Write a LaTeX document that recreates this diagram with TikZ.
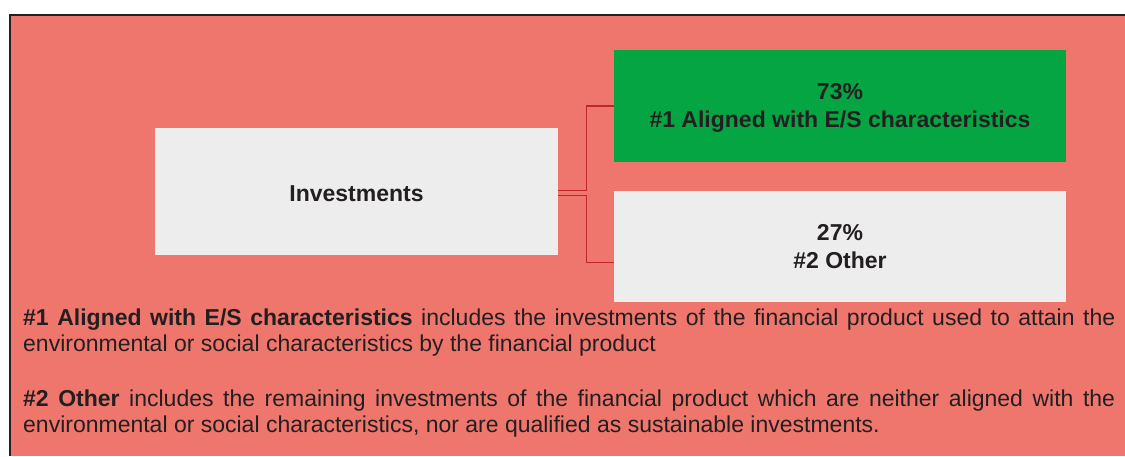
\documentclass[tikz,border=0pt]{standalone}
\usepackage{fontspec}
\setmainfont{Liberation Sans}
\definecolor{salmon}{HTML}{EF766D}
\definecolor{boxgreen}{HTML}{05A543}
\definecolor{boxgrey}{HTML}{EDEDED}
\definecolor{ink}{HTML}{231F20}
\definecolor{linkred}{HTML}{C0272D}
\begin{document}
\begin{tikzpicture}[x=1pt,y=-1pt,
  catbox/.style={inner sep=0pt, align=center, text=ink,
    font=\fontsize{23}{28}\selectfont\bfseries},
  link/.style={draw=linkred, line width=1.4pt},
  para/.style={anchor=north west, inner sep=0pt, text width=1092pt, align=justify,
    text=ink, font=\fontsize{23}{26.5}\selectfont}]
\useasboundingbox (0,0) rectangle (1125,456);
\fill[salmon] (10,15) rectangle (1125,456);
\draw[line width=2pt, ink] (10,456) -- (10,15) -- (1125,15);
\node[catbox, fill=boxgrey, minimum width=403pt, minimum height=127pt, text height=20.4pt, text depth=0pt] (inv) at (356.5,191.5) {Investments};
\node[catbox, fill=boxgreen, minimum width=452pt, minimum height=112pt] (a) at (840,106) {\rule{0pt}{19.4pt}73\%\\\#1 Aligned with E/S characteristics};
\node[catbox, fill=boxgrey, minimum width=452pt, minimum height=111pt] (b) at (840,246.5) {27\%\\\#2 Other};
\coordinate (up) at ([yshift=0.8pt]inv.east);
\coordinate (dn) at ([yshift=-4.2pt]inv.east);
\coordinate (bend) at ([yshift=-16pt]b.west);
\draw[link] (up) -- ++(28,0) |- (a.west);
\draw[link] (dn) -- ++(28,0) |- (bend);
\node[para] (p1) at (23,306.45) {\strut\textbf{\#1 Aligned with E/S characteristics} includes the investments of the financial product used to attain the\linebreak environmental or social characteristics by the financial product};
\node[para] (p2) at (23,387.45) {\strut\textbf{\#2 Other} includes the remaining investments of the financial product which are neither aligned with the\linebreak environmental or social characteristics, nor are qualified as sustainable investments.};
\end{tikzpicture}
\end{document}
